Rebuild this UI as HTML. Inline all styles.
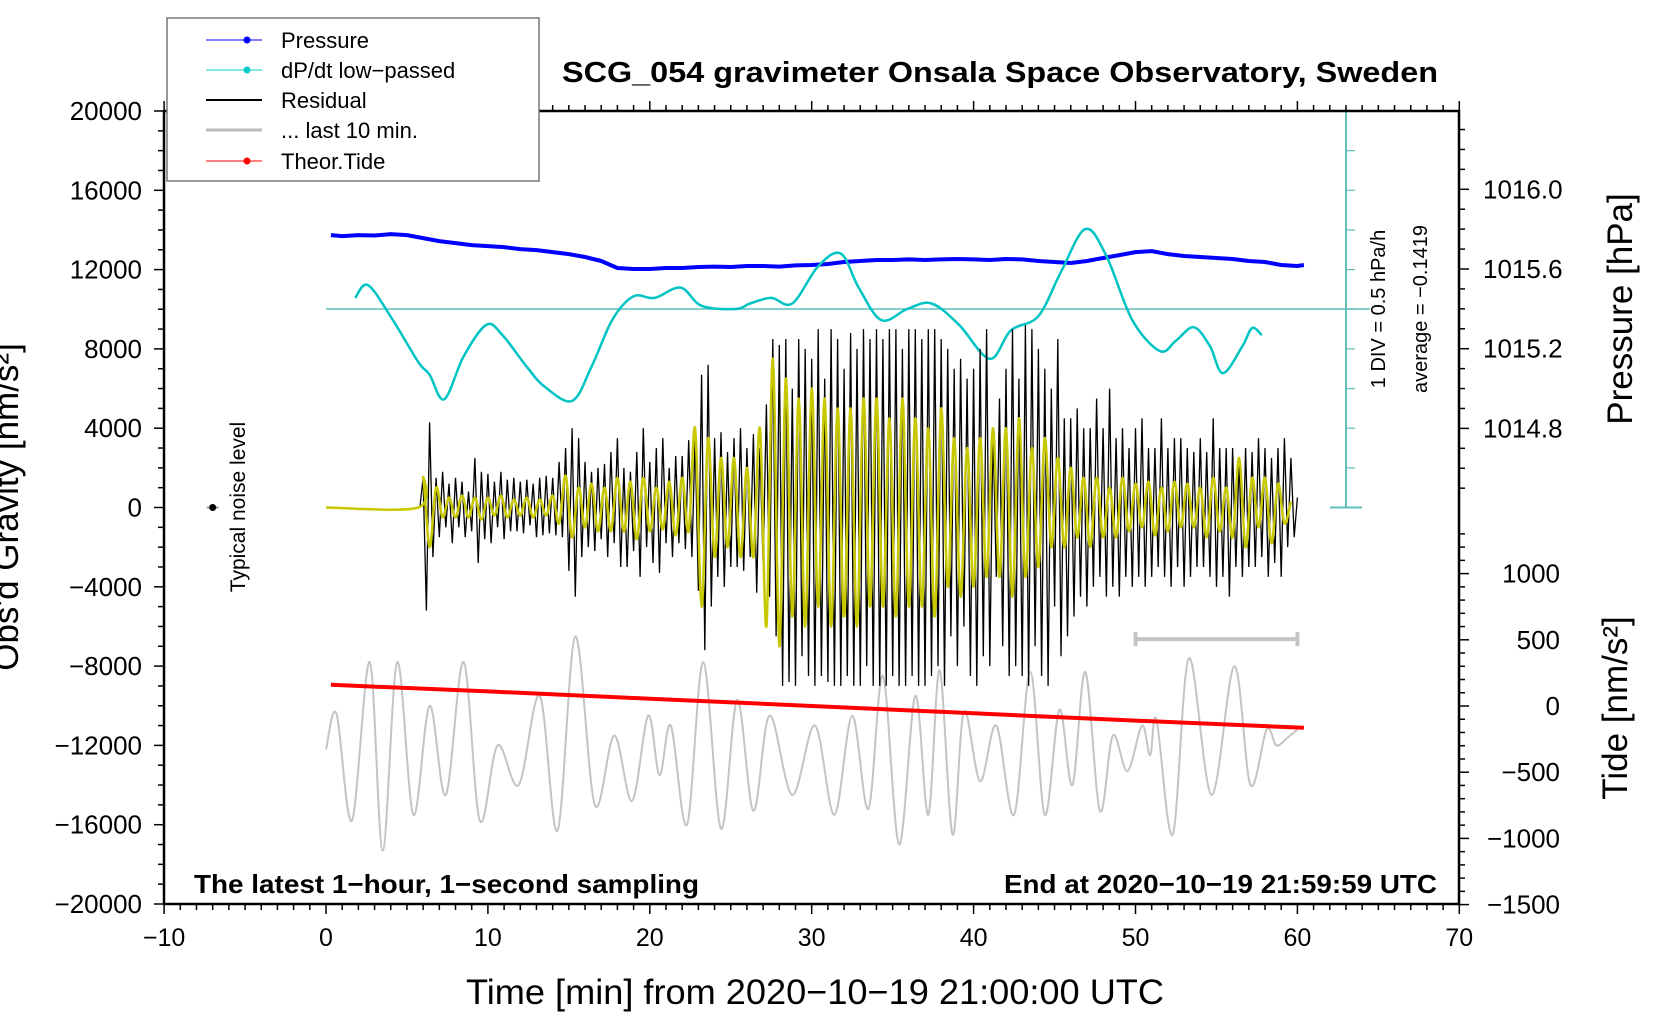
<!DOCTYPE html>
<html><head><meta charset="utf-8"><style>
html,body{margin:0;padding:0;background:#fff;}
svg{display:block;font-family:"Liberation Sans",sans-serif;}
</style></head><body>
<svg id="chart" width="1660" height="1020" viewBox="0 0 1660 1020" xmlns="http://www.w3.org/2000/svg">
<g id="marks"></g>
<g id="axes"></g>
<g id="labels">
<text x="562" y="82" font-size="29" font-weight="bold" textLength="876" lengthAdjust="spacingAndGlyphs">SCG_054 gravimeter Onsala Space Observatory, Sweden</text>
<text x="194" y="893" font-size="26" font-weight="bold" textLength="505" lengthAdjust="spacingAndGlyphs">The latest 1−hour, 1−second sampling</text>
<text x="1004" y="893" font-size="26" font-weight="bold" textLength="433" lengthAdjust="spacingAndGlyphs">End at 2020−10−19 21:59:59 UTC</text>
<text x="466" y="1004" font-size="35" textLength="698" lengthAdjust="spacingAndGlyphs">Time [min] from 2020−10−19 21:00:00 UTC</text>
<text transform="translate(18,507) rotate(-90)" font-size="35" text-anchor="middle">Obs'd Gravity [nm/s²]</text>
<text transform="translate(1632,309) rotate(-90)" font-size="35" text-anchor="middle">Pressure [hPa]</text>
<text transform="translate(1627,708) rotate(-90)" font-size="35" text-anchor="middle">Tide [nm/s²]</text>
<text transform="translate(245,507) rotate(-90)" font-size="21" text-anchor="middle">Typical noise level</text>
<text transform="translate(1385,309) rotate(-90)" font-size="20" text-anchor="middle">1 DIV = 0.5 hPa/h</text>
<text transform="translate(1427,309) rotate(-90)" font-size="20" text-anchor="middle">average = −0.1419</text>
</g>
<g id="legend">
<rect x="167" y="18" width="372" height="163" fill="#fff" stroke="#777" stroke-width="1.5"/>
<g><line x1="206" y1="40" x2="262" y2="40" stroke="#00f" stroke-width="1"/><circle cx="247" cy="40" r="3.5" fill="#00f"/><text x="281" y="48" font-size="22">Pressure</text></g>
<g><line x1="206" y1="70" x2="262" y2="70" stroke="#0cc" stroke-width="1"/><circle cx="247" cy="70" r="3.5" fill="#0cc"/><text x="281" y="78" font-size="22">dP/dt low−passed</text></g>
<g><line x1="206" y1="100" x2="262" y2="100" stroke="#000" stroke-width="2"/><text x="281" y="108" font-size="22">Residual</text></g>
<g><line x1="206" y1="130" x2="262" y2="130" stroke="#bbb" stroke-width="3"/><text x="281" y="138" font-size="22">... last 10 min.</text></g>
<g><line x1="206" y1="161" x2="262" y2="161" stroke="#f00" stroke-width="1"/><circle cx="247" cy="161" r="3.5" fill="#f00"/><text x="281" y="169" font-size="22">Theor.Tide</text></g>
</g>
</svg>
<script>
// ---- data ----
const pressureT = [0.3,1,2,3,4,5,6,7,8,9,10,11,12,13,14,15,16,17,18,19,20,21,22,23,24,25,26,27,28,29,30,31,32,33,34,35,36,37,38,39,40,41,42,43,44,45,46,47,48,49,50,51,52,53,54,55,56,57,58,59,60,60.4];
const pressureV = [1015.77,1015.765,1015.77,1015.768,1015.775,1015.77,1015.755,1015.74,1015.73,1015.72,1015.715,1015.71,1015.70,1015.695,1015.685,1015.675,1015.66,1015.64,1015.605,1015.60,1015.60,1015.605,1015.605,1015.61,1015.612,1015.61,1015.615,1015.615,1015.612,1015.618,1015.62,1015.625,1015.635,1015.64,1015.645,1015.645,1015.648,1015.645,1015.648,1015.65,1015.648,1015.645,1015.65,1015.648,1015.64,1015.635,1015.63,1015.64,1015.655,1015.67,1015.685,1015.69,1015.675,1015.665,1015.66,1015.655,1015.65,1015.64,1015.635,1015.62,1015.615,1015.62];
const dpdtT = [1.8,2.6,4.1,5.7,6.4,7.3,8.5,9.9,10.9,12.4,13.5,15.2,16.4,17.7,19.0,20.3,21.9,23.2,25.3,26.2,27.5,28.8,30.4,31.8,32.9,34.3,35.9,37.4,39.1,41.0,42.3,44.0,45.4,46.9,48.2,49.8,51.5,52.5,53.6,54.6,55.4,56.6,57.2,57.8];
const dpdtV = [0.14,0.30,-0.13,-0.67,-0.83,-1.14,-0.60,-0.20,-0.33,-0.73,-0.98,-1.16,-0.73,-0.13,0.16,0.14,0.27,0.04,0.0,0.07,0.14,0.07,0.54,0.70,0.27,-0.14,0.0,0.07,-0.20,-0.63,-0.27,-0.09,0.47,1.01,0.67,-0.14,-0.53,-0.40,-0.23,-0.47,-0.81,-0.47,-0.24,-0.33];
const residualStart = 6.0, residualStep = 0.2;
const residualV = [
1.5,-5.2,4.3,-2.5,1.5, -1.5,1.8,-1,1.2,-1.8, 1.5,-1,1.3,-1.5,0.8, -1.2,2.5,-2.8,1.8,-1.6,
1.7,-1.8,1.3,-1,1.8, -1.6,1.4,-1.2,1.5,-1.2, 1.3,-1.3,1.4,-0.9,1.2, -1.5,1.5,-1.4,1.6,-1.3,
1.5,-1.4,2.3,-1.5,3.0, -3.2,4.0,-4.5,3.5,-2.5, 2.3,-2.0,1.8,-2.2,2.0, -1.6,2.2,-2.5,2.8,-1.8,
3.5,-3.0,2.0,-3.0,1.8, -2.2,2.8,-3.5,4.0,-2.0, 2.3,-2.8,3.0,-3.3,3.5, -1.8,2.0,-2.5,2.6,-1.8,
2.6,-2.1,3.4,-2.5,3.5, -4.2,6.7,-7.2,7.2,-5.0, 3.5,-3.5,3.8,-4.0,2.8, -3.0,3.5,-3.0,4.0,-3.2,
3.0,-2.5,3.7,-4.3,3.0, -2.8,5.2,-4.5,8.5,-6.5, 8.2,-9.0,8.5,-8.8,6.0, -9.0,8.5,-7.5,8.0,-8.5,
7.5,-9.0,9.0,-8.5,6.5, -8.8,9.0,-9.0,8.5,-9.0, 7.0,-8.5,8.8,-9.0,8.0, -9.0,9.0,-8.0,8.5,-9.0,
9.0,-9.0,8.5,-9.0,9.0, -8.5,9.0,-9.0,8.0,-9.0, 9.0,-8.5,9.0,-9.0,8.5, -9.0,9.0,-8.5,9.0,-8.0,
8.5,-9.0,8.0,-6.5,7.0, -8.0,7.5,-6.0,6.5,-8.5, 7.0,-9.0,8.0,-7.5,9.0, -8.0,4.0,-3.5,5.5,-7.0,
7.0,-8.5,9.0,-8.0,6.5, -8.5,9.2,-9.0,9.0,-7.0, 8.0,-8.5,7.0,-9.0,6.0, -5.0,8.5,-7.5,4.5,-6.5,
4.5,-5.5,5.0,-4.5,4.0, -5.0,4.0,-4.0,5.5,-3.5, 4.0,-4.5,6.0,-4.0,3.5, -4.5,4.0,-3.5,3.0,-4.0,
4.0,-3.5,4.5,-4.0,3.0, -3.5,3.0,-3.0,4.5,-3.5, 3.0,-4.0,3.5,-3.0,3.5, -4.0,3.0,-3.5,2.8,-3.0,
3.5,-3.0,2.8,-3.5,4.5, -4.0,3.0,-3.5,3.0,-4.5, 3.0,-3.0,2.5,-3.5,3.0, -3.0,2.8,-3.0,3.5,-2.5,
3.0,-3.5,2.5,-2.8,3.0, -3.5,3.5,-2.0,2.5,-1.5, 0.5];
const filteredStart = 6.0, filteredStep = 0.4;
const filteredV = [
1.5,-2,1,-0.5,0.5, -0.5,0.6,-0.5,0.5,-0.6, 0.5,-0.4,0.6,-0.5,0.4, -0.4,0.5,-0.5,0.4,-0.4,
0.6,-0.8,1.6,-1.5,1.0, -1.0,1.2,-1.2,1.0,-1.2, 1.5,-1.2,1.3,-1.6,1.5, -1.2,1.0,-1.1,1.3,-1.4,
1.5,-1.2,4.0,-5.0,3.5, -2.5,2.5,-2.0,2.5,-2.5, 2.0,-2.5,4.0,-6.0,7.5, -7.0,6.5,-5.5,5.5,-6.0,
6.0,-5.0,5.5,-6.0,5.0, -5.5,5.0,-6.0,5.5,-5.0, 5.5,-5.0,4.5,-5.5,5.5, -5.0,4.5,-5.0,4.0,-5.5,
5.0,-4.0,3.5,-4.5,3.0, -4.0,3.5,-3.5,4.0,-3.5, 4.0,-4.5,4.5,-3.5,3.0, -3.0,3.5,-2.0,2.5,-2.0,
2.0,-1.5,1.5,-2.0,1.5, -1.5,1.0,-1.5,1.5,-1.2, 1.2,-1.0,1.3,-1.4,1.0, -1.2,1.3,-1.0,1.2,-1.0,
1.0,-1.5,1.5,-1.2,1.0, -1.5,2.5,-2.0,1.5,-1.0, 1.5,-1.8,1.2,-0.8,0.3];
const last10T = [0,0.65,1.6,2.7,3.5,4.4,5.4,6.4,7.4,8.5,9.5,10.6,11.9,13.2,14.3,15.4,16.6,17.8,18.9,19.9,20.6,21.3,22.3,23.3,24.4,25.4,26.4,27.4,28.8,30.2,31.4,32.5,33.5,34.4,35.4,36.4,37.2,37.9,38.7,39.4,40.4,41.4,42.5,43.5,44.4,45.3,46.1,46.9,47.8,48.6,49.5,50.4,50.9,51.3,52.3,53.3,54.7,56.1,57.1,58.1,58.7,59.4,60.0];
const last10V = [-12.2,-10.4,-15.8,-7.8,-17.3,-7.8,-15.5,-10.0,-14.5,-7.8,-15.8,-12.0,-14.0,-9.5,-16.3,-6.5,-15.0,-11.5,-14.8,-10.5,-13.5,-11.0,-16.0,-7.8,-16.2,-9.7,-15.3,-10.5,-14.5,-11.0,-15.5,-10.5,-15.2,-8.5,-17.0,-9.5,-15.5,-8.2,-16.5,-10.3,-13.8,-11.0,-15.5,-8.3,-15.5,-10.2,-14.0,-8.3,-15.3,-11.5,-13.3,-11.0,-12.5,-10.7,-16.5,-7.6,-14.5,-8.0,-14.0,-11.2,-12.0,-11.6,-11.2];
const tideT = [0.3,10,20,30,40,50,60.4];
const tideV = [160,110,55,0,-55,-110,-165];
const xTicks = [-10,0,10,20,30,40,50,60,70];
const gTicks = [20000,16000,12000,8000,4000,0,-4000,-8000,-12000,-16000,-20000];
const pTicks = ["1016.0","1015.6","1015.2","1014.8"];
const tTicks = [1000,500,0,-500,-1000,-1500];

// ---- scales ----
const BOT = 904;
const X = t => 326 + t * 16.19;
const Yg = g => 111 + (20000 - g) * (BOT - 111) / 40000;
const Yp = p => 269 - (p - 1015.6) * 199.25;
const Yt = v => 706 - v * 0.1324;
const Yc = r => 309 - r * 79.2;
const NS = "http://www.w3.org/2000/svg";
const marks = document.getElementById('marks');
const axes = document.getElementById('axes');
function mk(tag, attrs, parent) {
  const e = document.createElementNS(NS, tag);
  for (const k in attrs) e.setAttribute(k, attrs[k]);
  parent.appendChild(e);
  return e;
}
function smooth(pts) {
  let d = 'M' + pts[0][0].toFixed(1) + ',' + pts[0][1].toFixed(1);
  for (let i = 0; i < pts.length - 1; i++) {
    const p0 = pts[Math.max(0, i - 1)], p1 = pts[i], p2 = pts[i + 1], p3 = pts[Math.min(pts.length - 1, i + 2)];
    const c1x = p1[0] + (p2[0] - p0[0]) / 6, c1y = p1[1] + (p2[1] - p0[1]) / 6;
    const c2x = p2[0] - (p3[0] - p1[0]) / 6, c2y = p2[1] - (p3[1] - p1[1]) / 6;
    d += 'C' + c1x.toFixed(1) + ',' + c1y.toFixed(1) + ' ' + c2x.toFixed(1) + ',' + c2y.toFixed(1) + ' ' + p2[0].toFixed(1) + ',' + p2[1].toFixed(1);
  }
  return d;
}
function poly(pts) { return 'M' + pts.map(p => p[0].toFixed(1) + ',' + p[1].toFixed(1)).join('L'); }

// cyan zero line & scale bar
let el = mk('line', {x1: X(0), y1: Yc(0), x2: 1370, y2: Yc(0), stroke: '#5fbfbf', 'stroke-width': 1.5}, marks);


el = mk('g', {}, marks);


mk('line', {x1: 1346, y1: 111, x2: 1346, y2: Yg(0), stroke: '#5fbfbf', 'stroke-width': 2}, el);
mk('line', {x1: 1330, y1: 111, x2: 1362, y2: 111, stroke: '#5fbfbf', 'stroke-width': 2}, el);
mk('line', {x1: 1330, y1: Yg(0), x2: 1362, y2: Yg(0), stroke: '#5fbfbf', 'stroke-width': 2}, el);
for (let k = 1; k < 10; k++) { const yy = 111 + k * (Yg(0) - 111) / 10; mk('line', {x1: 1346, y1: yy, x2: 1355, y2: yy, stroke: '#5fbfbf', 'stroke-width': 1.2}, el); }

// gray last-10-min trace
el = mk('path', {d: smooth(last10T.map((t, i) => [X(t), Yg(last10V[i] * 1000)])), fill: 'none', stroke: '#c4c4c4', 'stroke-width': 2}, marks);


// gray 10-min scale bar
el = mk('g', {}, marks);


mk('line', {x1: X(50), y1: Yg(-6640), x2: X(60), y2: Yg(-6640), stroke: '#c4c4c4', 'stroke-width': 4}, el);
mk('line', {x1: X(50), y1: Yg(-6640) - 7, x2: X(50), y2: Yg(-6640) + 7, stroke: '#c4c4c4', 'stroke-width': 4}, el);
mk('line', {x1: X(60), y1: Yg(-6640) - 7, x2: X(60), y2: Yg(-6640) + 7, stroke: '#c4c4c4', 'stroke-width': 4}, el);

// pressure
el = mk('path', {d: poly(pressureT.map((t, i) => [X(t), Yp(pressureV[i])])), fill: 'none', stroke: '#0000ff', 'stroke-width': 4, 'stroke-linejoin': 'round'}, marks);



// dp/dt
el = mk('path', {d: smooth(dpdtT.map((t, i) => [X(t), Yc(dpdtV[i])])), fill: 'none', stroke: '#00c4c4', 'stroke-width': 2.5}, marks);



// residual black
const resPts = [[X(residualStart - 0.2), Yg(0)]].concat(residualV.map((v, i) => [X(residualStart + i * residualStep), Yg(v * 1000)]));
el = mk('path', {d: poly(resPts), fill: 'none', stroke: '#000', 'stroke-width': 1.3}, marks);



// filtered yellow
const filPts = [[X(0), Yg(0)], [X(filteredStart - 0.3), Yg(0)]].concat(filteredV.map((v, i) => [X(filteredStart + i * filteredStep), Yg(v * 1000)]));
el = mk('path', {d: smooth(filPts), fill: 'none', stroke: '#c8c800', 'stroke-width': 2.5}, marks);



// tide red
el = mk('path', {d: poly(tideT.map((t, i) => [X(t), Yt(tideV[i])])), fill: 'none', stroke: '#ff0000', 'stroke-width': 4}, marks);



// noise marker
el = mk('g', {}, marks);


mk('line', {x1: X(-7) - 6, y1: Yg(0), x2: X(-7) + 6, y2: Yg(0), stroke: '#999', 'stroke-width': 2}, el);
mk('circle', {cx: X(-7), cy: Yg(0), r: 3.5, fill: '#000'}, el);

// ---- axes ----
el = mk('rect', {x: 164, y: 111, width: 1295, height: BOT - 111, fill: 'none', stroke: '#000', 'stroke-width': 2.5}, axes);


for (let t = -10; t <= 70; t++) {
  const len = t % 10 === 0 ? 10 : 6;
  mk('line', {x1: X(t), y1: BOT, x2: X(t), y2: BOT + len, stroke: '#000', 'stroke-width': 1.5}, axes);
  mk('line', {x1: X(t), y1: 111, x2: X(t), y2: 111 - len, stroke: '#000', 'stroke-width': 1.5}, axes);
}
xTicks.forEach(t => {
  const tx = mk('text', {x: X(t), y: 946, 'font-size': 25, 'text-anchor': 'middle'}, axes);
  tx.textContent = String(t).replace('-', '−');
  
  
});
for (let g = -20000; g <= 20000; g += 1000) {
  const len = g % 4000 === 0 ? 10 : 6;
  mk('line', {x1: 164 - len, y1: Yg(g), x2: 164, y2: Yg(g), stroke: '#000', 'stroke-width': 1.5}, axes);
}
gTicks.forEach(g => {
  const tx = mk('text', {x: 142, y: Yg(g) + 9, 'font-size': 26, 'text-anchor': 'end'}, axes);
  tx.textContent = String(g).replace('-', '−');
  
  
});
for (let k = 0; k <= 18; k++) {
  const p = 1016.3 - k * 0.1, yy = Yp(p);
  if (yy < 115) continue;
  if (yy > 560) break;
  const len = (Math.abs(Math.round(p * 10) % 4) === 0) ? 10 : 6;
  mk('line', {x1: 1459, y1: yy, x2: 1459 + len, y2: yy, stroke: '#000', 'stroke-width': 1.5}, axes);
}
pTicks.forEach(p => {
  const tx = mk('text', {x: 1483, y: Yp(parseFloat(p)) + 9, 'font-size': 26}, axes);
  tx.textContent = p;
  
  
});
for (let v = 1300; v >= -1500; v -= 100) {
  const len = v % 500 === 0 ? 10 : 6;
  mk('line', {x1: 1459, y1: Yt(v), x2: 1459 + len, y2: Yt(v), stroke: '#000', 'stroke-width': 1.5}, axes);
}
tTicks.forEach(v => {
  const tx = mk('text', {x: 1560, y: Yt(v) + 9, 'font-size': 26, 'text-anchor': 'end'}, axes);
  tx.textContent = String(v).replace('-', '−');
  
  
});
</script>
</body></html>
